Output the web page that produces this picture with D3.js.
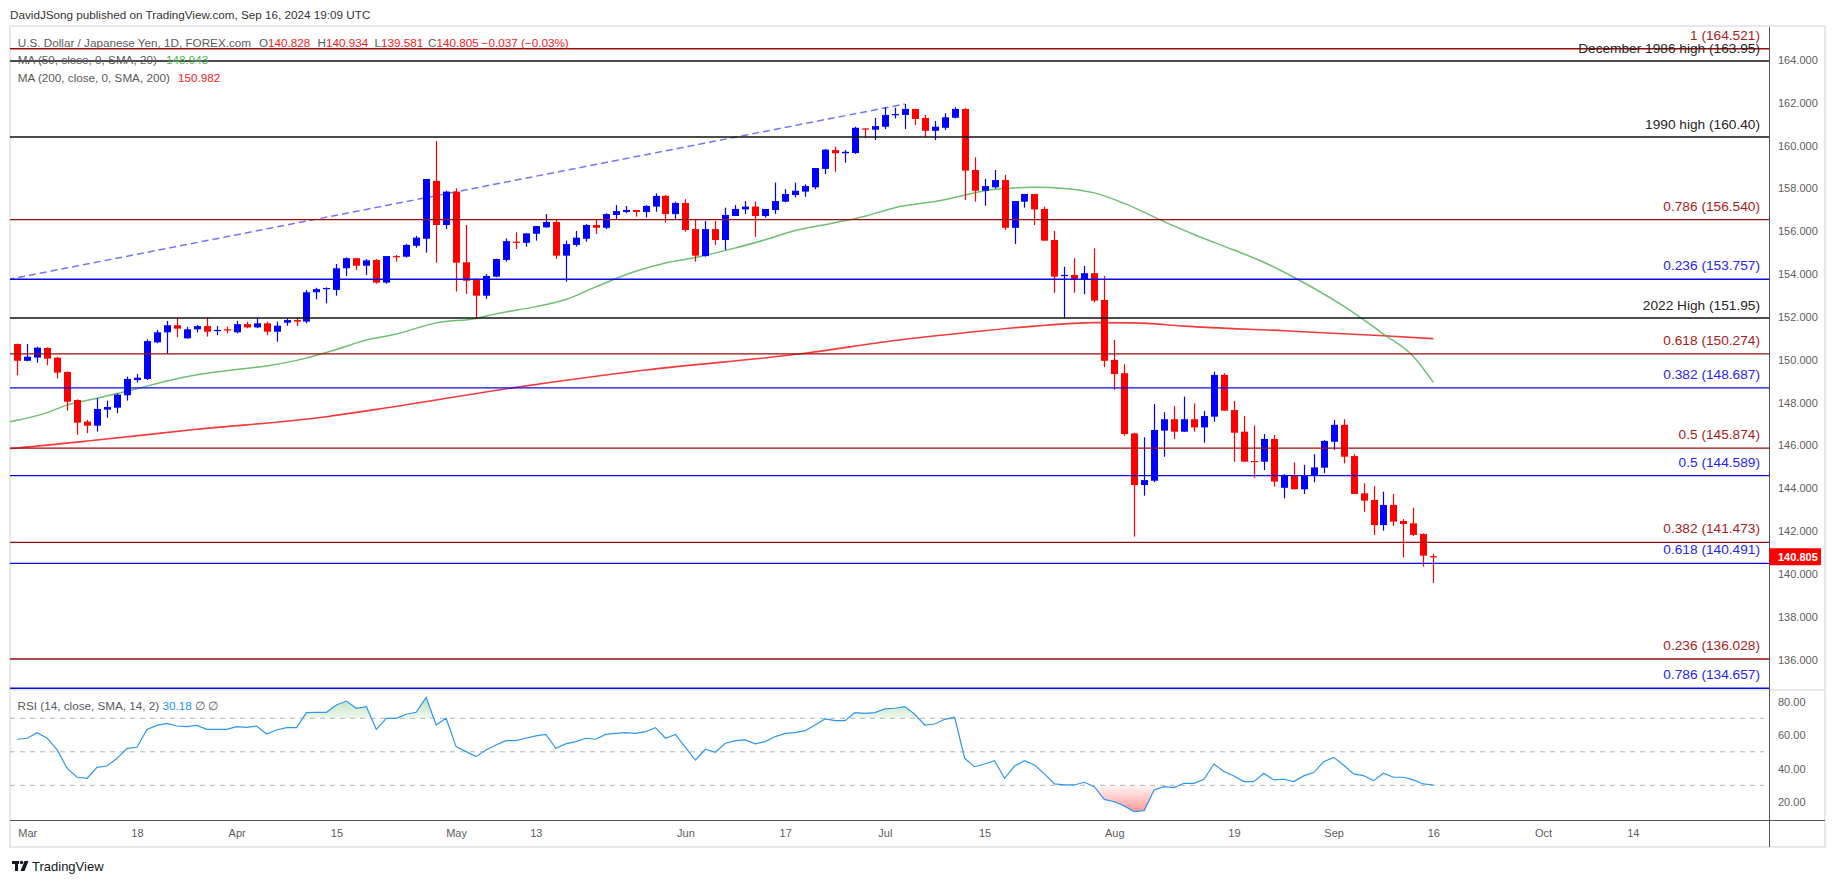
<!DOCTYPE html>
<html><head><meta charset="utf-8">
<script src="https://cdn.jsdelivr.net/npm/d3@7"></script>
<style>
body{margin:0;background:#fff;}
svg text{font-family:"Liberation Sans",Arial,sans-serif;}
</style>
</head><body>
<svg id="c" width="1835" height="883"></svg>
<script>
// ---------------- DATA ----------------
const firstBar = "2024-02-29"; // daily FX bars (Mon-Fri)
const opens = [150.73,149.95,150.10,150.55,150.10,149.43,148.12,147.11,146.92,147.67,147.76,148.34,149.05,149.10,150.81,151.28,151.61,151.00,151.42,151.57,151.34,151.42,151.28,151.66,151.51,151.70,151.31,151.73,151.85,151.78,153.15,153.32,153.26,154.27,154.74,154.39,154.66,153.60,154.84,154.81,155.32,155.65,158.35,156.29,157.85,154.55,153.72,152.99,153.88,154.66,155.51,155.46,155.88,156.18,156.43,154.86,155.36,155.65,156.29,156.16,156.76,156.90,156.99,156.90,157.15,157.65,156.80,157.32,156.10,154.84,156.10,155.59,156.71,157.02,157.15,156.71,156.99,157.38,157.69,157.85,158.05,158.91,159.79,159.64,159.65,160.80,160.74,160.88,161.45,161.43,161.71,161.29,160.69,160.83,161.30,161.71,158.86,157.89,158.05,158.39,156.16,157.38,157.74,157.04,155.59,153.94,153.96,153.76,154.04,152.79,149.99,149.37,146.56,144.15,144.35,146.69,147.22,146.64,147.22,146.84,147.34,149.29,147.65,146.64,145.27,145.24,146.30,144.02,144.58,143.95,144.58,144.96,146.17,146.96,145.50,143.76,143.45,142.28,143.22,142.47,142.36,141.86,140.828];
const highs = [150.76,150.73,150.61,150.58,150.14,149.45,148.15,147.19,148.20,148.09,148.43,149.21,149.33,150.95,151.39,151.81,151.94,151.54,151.62,151.98,151.57,151.55,151.81,151.78,151.98,151.78,151.78,151.93,151.96,153.26,153.36,153.38,154.47,154.78,154.74,154.70,154.70,154.84,154.89,155.41,155.78,158.44,160.21,157.89,158.00,156.29,153.80,154.00,154.72,155.67,155.95,155.90,156.24,156.80,156.52,155.56,156.01,156.34,156.56,156.84,157.22,157.18,156.99,157.22,157.77,157.69,157.38,157.50,156.52,156.48,156.48,157.10,157.22,157.41,157.38,157.04,158.27,157.97,158.27,158.19,158.95,159.84,159.95,159.79,160.88,160.80,161.29,161.79,161.77,161.94,161.71,161.43,161.15,161.51,161.79,161.74,159.45,158.44,158.86,158.63,157.41,157.74,157.74,157.15,156.01,154.34,154.74,154.38,155.20,153.91,150.92,149.79,146.59,146.38,147.93,147.55,147.84,148.28,147.96,147.61,149.44,149.37,148.07,147.37,146.92,146.53,146.48,144.66,145.21,145.09,145.59,146.25,147.19,147.22,145.59,144.23,144.10,143.84,143.73,142.56,143.09,141.89,140.934];
const lows = [149.27,149.93,149.86,149.74,149.13,147.62,146.49,146.57,146.64,147.29,147.50,148.09,148.93,149.05,150.77,150.30,151.05,150.98,151.27,151.08,151.15,151.23,151.23,151.47,151.47,151.16,150.84,151.59,151.57,151.70,152.82,152.63,152.99,153.91,154.19,153.95,153.55,153.55,154.58,154.77,155.23,155.00,154.53,156.10,153.18,153.07,151.93,152.84,153.85,154.58,155.17,155.28,155.56,156.17,154.70,153.64,155.28,155.51,155.87,156.10,156.56,156.84,156.68,156.64,156.91,156.40,156.57,155.98,154.58,154.81,155.36,155.12,156.71,156.80,155.74,156.63,156.80,157.35,157.58,157.61,157.96,158.67,158.78,159.20,159.61,160.34,160.26,160.77,161.27,160.77,160.96,160.39,160.26,160.73,161.27,157.46,157.38,157.19,158.00,156.06,155.40,157.10,156.29,155.56,153.13,151.93,153.13,153.06,152.68,149.65,148.59,146.45,141.74,143.65,144.28,145.47,146.30,146.64,146.64,146.13,147.11,147.62,145.24,145.24,144.49,144.85,144.07,143.53,143.95,143.73,144.28,144.70,145.79,145.16,143.73,142.90,141.82,142.02,142.24,140.77,141.77,140.34,139.581];
const closes = [149.95,150.14,150.56,150.05,149.40,148.04,147.06,146.92,147.70,147.79,148.37,149.10,149.16,150.87,151.28,151.61,151.45,151.42,151.57,151.31,151.39,151.39,151.66,151.51,151.70,151.31,151.59,151.85,151.78,153.15,153.30,153.35,154.27,154.74,154.39,154.64,153.60,154.84,154.82,155.36,155.70,158.44,156.29,157.85,154.53,153.69,152.99,153.91,154.70,155.54,155.48,155.90,156.24,156.43,154.86,155.40,155.70,156.29,156.16,156.80,156.94,156.99,156.90,157.18,157.65,156.80,157.32,156.06,154.86,156.10,155.59,156.76,157.04,157.15,156.71,157.04,157.41,157.74,157.89,158.11,158.95,159.81,159.64,159.71,160.83,160.78,160.91,161.43,161.47,161.71,161.24,160.69,160.88,161.32,161.71,158.83,157.89,158.11,158.39,156.16,157.41,157.74,157.02,155.56,153.88,153.96,153.76,154.04,152.76,149.95,149.33,146.53,144.15,144.38,146.72,147.22,146.64,147.22,146.84,147.37,149.29,147.62,146.59,145.24,145.22,146.30,144.31,144.62,143.95,144.58,144.97,146.21,146.96,145.47,143.73,143.42,142.28,143.22,142.44,142.33,141.82,140.85,140.805];
const rsiValues = [57.5,58.1,61.4,58.1,51.1,40.1,34.8,34.2,40.7,41.5,46.1,52.1,52.7,63.4,65.8,67.0,65.4,65.0,65.8,63.4,63.4,63.4,65.0,64.6,65.4,60.6,63.0,64.4,64.4,73.4,73.6,73.6,78.0,80.3,76.0,77.0,63.4,70.0,70.0,72.4,73.6,82.5,66.0,70.0,53.1,50.1,47.1,51.1,54.1,56.7,56.7,58.1,59.5,60.4,52.1,54.7,56.1,58.1,57.5,60.4,61.0,61.4,61.0,62.0,64.4,58.1,60.4,52.7,45.1,51.5,49.7,55.1,56.7,57.1,54.7,56.1,59.1,61.0,61.4,62.6,66.0,69.6,68.6,68.6,73.4,73.0,73.4,75.6,76.0,77.0,72.4,66.0,66.6,69.4,70.6,46.1,41.1,42.7,44.7,34.2,41.5,44.7,42.1,36.8,30.8,30.2,30.2,31.8,29.2,21.6,20.2,17.7,14.3,14.9,27.2,29.2,28.6,31.2,31.2,33.6,42.7,38.2,35.6,32.2,32.2,37.2,33.2,33.6,32.2,35.6,37.6,44.1,46.7,42.1,36.8,35.8,32.8,37.2,34.8,34.8,33.2,30.8,30.18];

// moving averages at sample dates
const ma50Dates = ["2024-02-28","2024-02-29","2024-03-05","2024-03-07","2024-03-12","2024-03-18","2024-03-21","2024-03-26","2024-04-01","2024-04-04","2024-04-09","2024-04-15","2024-04-18","2024-04-23","2024-04-29","2024-05-03","2024-05-07","2024-05-13","2024-05-16","2024-05-21","2024-05-27","2024-05-30","2024-06-04","2024-06-10","2024-06-13","2024-06-18","2024-06-24","2024-06-27","2024-07-02","2024-07-09","2024-07-11","2024-07-16","2024-07-22","2024-07-25","2024-07-30","2024-08-02","2024-08-08","2024-08-13","2024-08-19","2024-08-22","2024-08-27","2024-09-03","2024-09-09","2024-09-12","2024-09-16"];
const ma50Values = [147.08,147.17,147.53,147.89,148.20,148.64,149.01,149.30,149.54,149.71,149.97,150.48,150.92,151.20,151.72,151.93,152.14,152.48,152.81,153.40,154.13,154.52,154.77,155.22,155.60,156.03,156.40,156.70,157.10,157.47,157.68,157.96,158.05,158.00,157.79,157.30,156.45,155.85,155.12,154.55,153.85,152.50,151.20,150.15,148.943];
const ma200Dates = ["2024-02-28","2024-02-29","2024-03-12","2024-03-26","2024-04-12","2024-04-19","2024-05-09","2024-05-28","2024-06-19","2024-07-02","2024-07-11","2024-07-22","2024-07-30","2024-08-05","2024-08-12","2024-08-26","2024-09-09","2024-09-16"];
const ma200Values = [145.84,145.88,146.25,146.75,147.34,147.68,148.71,149.52,150.30,150.90,151.26,151.57,151.73,151.72,151.57,151.35,151.12,150.982];

// drawn trend line (two anchor points)
const trendDates = ["2024-02-28","2024-07-03"];
const trendValues = [153.74,161.94];

// horizontal levels
const levelValues = [164.521,163.95,160.40,156.540,153.757,151.95,150.274,148.687,145.874,144.589,141.473,140.491,136.028,134.657];
const levelLabels = ["1 (164.521)","December 1986 high (163.95)","1990 high (160.40)","0.786 (156.540)","0.236 (153.757)","2022 High (151.95)","0.618 (150.274)","0.382 (148.687)","0.5 (145.874)","0.5 (144.589)","0.382 (141.473)","0.618 (140.491)","0.236 (136.028)","0.786 (134.657)"];
const levelGroups = ["fibRed","hist","hist","fibRed","fibBlue","hist","fibRed","fibBlue","fibRed","fibBlue","fibRed","fibBlue","fibRed","fibBlue"];

// axes
const tickDates = ["2024-03-01","2024-03-18","2024-04-01","2024-04-15","2024-05-01","2024-05-13","2024-06-03","2024-06-17","2024-07-01","2024-07-15","2024-08-01","2024-08-19","2024-09-02","2024-09-16","2024-10-01","2024-10-14"];
const tickLabels = ["Mar","18","Apr","15","May","13","Jun","17","Jul","15","Aug","19","Sep","16","Oct","14"];
const priceTicks = [136,138,140,142,144,146,148,150,152,154,156,158,160,162,164];
const rsiTicks = [20,40,60,80];
const rsiLevels = [70,50,30];

// ---------------- HELPERS ----------------
const t0 = new Date(firstBar + "T00:00:00Z");
function barIndex(s){
  const d = new Date(s + "T00:00:00Z");
  const a = d < t0 ? d : t0, b = d < t0 ? t0 : d;
  const n = d3.utcDay.range(a, b).filter(z => z.getUTCDay() % 6 !== 0).length;
  return d < t0 ? -n : n;
}
const bars = closes.map((c,i)=>({i, o:opens[i], h:highs[i], l:lows[i], c}));

// ---------------- LAYOUT ----------------
const svg = d3.select("#c");
const L = 10, R = 1769, PT = 27, PB = 690, RT = 690, RB = 820, FR = 1825, FB = 847;
const x = d3.scaleLinear().domain([-0.732, 175.66]).range([L, R]);
const y = d3.scaleLinear().domain([134.578, 165.536]).range([PB, PT]);
const yr = d3.scaleLinear().domain([9.28, 86.9]).range([RB, RT]);

const defs = svg.append("defs");
defs.append("clipPath").attr("id","cp").append("rect").attr("x",L).attr("y",PT).attr("width",R-L).attr("height",PB-PT);
defs.append("clipPath").attr("id","cr").append("rect").attr("x",L).attr("y",RT).attr("width",R-L).attr("height",RB-RT);
defs.append("clipPath").attr("id","cAbove").append("rect").attr("x",L).attr("y",RT).attr("width",R-L).attr("height",yr(70)-RT);
defs.append("clipPath").attr("id","cBelow").append("rect").attr("x",L).attr("y",yr(30)).attr("width",R-L).attr("height",RB-yr(30));
const gg = defs.append("linearGradient").attr("id","gGreen").attr("gradientUnits","userSpaceOnUse").attr("x1",0).attr("x2",0).attr("y1",yr(82)).attr("y2",yr(70));
gg.append("stop").attr("offset","0").attr("stop-color","rgb(60,170,60)").attr("stop-opacity",0.35);
gg.append("stop").attr("offset","1").attr("stop-color","rgb(60,170,60)").attr("stop-opacity",0.08);
const gr = defs.append("linearGradient").attr("id","gRed").attr("gradientUnits","userSpaceOnUse").attr("x1",0).attr("x2",0).attr("y1",yr(30)).attr("y2",yr(14));
gr.append("stop").attr("offset","0").attr("stop-color","rgb(255,60,60)").attr("stop-opacity",0.05);
gr.append("stop").attr("offset","1").attr("stop-color","rgb(255,40,40)").attr("stop-opacity",0.5);

// header
svg.append("text").attr("x",10).attr("y",19).attr("font-size",11.7).attr("fill","#333")
  .text("DavidJSong published on TradingView.com, Sep 16, 2024 19:09 UTC");

// frame
svg.append("rect").attr("x",L).attr("y",26).attr("width",FR-L).attr("height",FB-26)
  .attr("fill","#fff").attr("stroke","#e6e8ee").attr("stroke-width",2);

// ---------------- PRICE PANE ----------------
const pane = svg.append("g").attr("clip-path","url(#cp)");
const lineColor = {fibRed:"#9c0a0a", fibBlue:"#0a0ae6", hist:"#111"};
const textColor = {fibRed:"#a81c1c", fibBlue:"#2626f0", hist:"#262626"};

// MA lines
const maLine = d3.line().x(d=>x(d.i)).y(d=>y(d.v)).curve(d3.curveMonotoneX);
pane.append("path").datum(ma200Dates.map((s,k)=>({i:barIndex(s), v:ma200Values[k]})))
  .attr("d",maLine).attr("fill","none").attr("stroke","#f01818").attr("stroke-opacity",0.85).attr("stroke-width",1.6);
pane.append("path").datum(ma50Dates.map((s,k)=>({i:barIndex(s), v:ma50Values[k]})))
  .attr("d",maLine).attr("fill","none").attr("stroke","#4caf50").attr("stroke-opacity",0.8).attr("stroke-width",1.5);

// trend line
pane.append("line")
  .attr("x1",x(barIndex(trendDates[0]))).attr("y1",y(trendValues[0]))
  .attr("x2",x(barIndex(trendDates[1]))).attr("y2",y(trendValues[1]))
  .attr("stroke","#3c3cf0").attr("stroke-opacity",0.7).attr("stroke-width",1.5).attr("stroke-dasharray","7,4");

// candles
const cg = pane.append("g");
bars.forEach(b=>{
  const xc = Math.round(x(b.i));
  const up = b.c >= b.o;
  const col = up ? "#0000ff" : "#ff0000";
  cg.append("line").attr("x1",xc+0.5).attr("x2",xc+0.5).attr("y1",y(b.h)).attr("y2",y(b.l))
    .attr("stroke",col).attr("stroke-width",1.2);
  const yt = y(Math.max(b.o,b.c)), yb = y(Math.min(b.o,b.c));
  cg.append("rect").attr("x",xc-3).attr("width",7).attr("y",yt).attr("height",Math.max(1.2, yb-yt)).attr("fill",col);
});

// levels
levelValues.forEach((v,k)=>{
  const g = levelGroups[k];
  pane.append("line").attr("x1",L).attr("x2",R).attr("y1",y(v)).attr("y2",y(v))
    .attr("stroke",lineColor[g]).attr("stroke-width",1.4);
});
levelValues.forEach((v,k)=>{
  const g = levelGroups[k];
  svg.append("text").attr("x",1760).attr("y",y(v) - (g==="hist"?7.5:9))
    .attr("text-anchor","end").attr("font-size",13.7).attr("fill",textColor[g]).text(levelLabels[k]);
});

// legend
const leg = svg.append("g").attr("font-size",11.7);
leg.append("text").attr("x",17.8).attr("y",46.7).attr("fill","#5a5a5a").text("U.S. Dollar / Japanese Yen, 1D, FOREX.com");
const ohlc = [["O","140.828",259],["H","140.934",317.5],["L","139.581",374.5],["C","140.805",428]];
ohlc.forEach(([k,v,px])=>{
  const t = leg.append("text").attr("x",px).attr("y",46.7);
  t.append("tspan").attr("fill","#5a5a5a").text(k);
  t.append("tspan").attr("fill","#f21c1c").text(v);
});
leg.append("text").attr("x",481.6).attr("y",46.7).attr("fill","#f21c1c").text("\u22120.037 (\u22120.03%)");
leg.append("text").attr("x",17.8).attr("y",63.5).attr("fill","#5a5a5a").text("MA (50, close, 0, SMA, 20)");
leg.append("text").attr("x",166).attr("y",63.5).attr("fill","#4caf50").text("148.943");
leg.append("text").attr("x",17.8).attr("y",81.5).attr("fill","#5a5a5a").text("MA (200, close, 0, SMA, 200)");
leg.append("text").attr("x",178).attr("y",81.5).attr("fill","#f21c1c").text("150.982");

// ---------------- RSI PANE ----------------
const rp = svg.append("g").attr("clip-path","url(#cr)");
rsiLevels.forEach(v=>{
  rp.append("line").attr("x1",L).attr("x2",1764).attr("y1",yr(v)).attr("y2",yr(v))
    .attr("stroke","#b4b4b4").attr("stroke-width",1).attr("stroke-dasharray","5,5");
});
rp.append("path").datum(rsiValues).attr("clip-path","url(#cAbove)")
  .attr("d",d3.area().x((d,i)=>x(i)).y0(yr(70)).y1(d=>yr(d))).attr("fill","url(#gGreen)");
rp.append("path").datum(rsiValues).attr("clip-path","url(#cBelow)")
  .attr("d",d3.area().x((d,i)=>x(i)).y0(yr(30)).y1(d=>yr(d))).attr("fill","url(#gRed)");
rp.append("path").datum(rsiValues).attr("d",d3.line().x((d,i)=>x(i)).y(d=>yr(d)))
  .attr("fill","none").attr("stroke","#2f96f0").attr("stroke-width",1.2);
const rl = svg.append("text").attr("x",17.6).attr("y",709.7).attr("font-size",11.7);
rl.append("tspan").attr("fill","#5a5a5a").text("RSI (14, close, SMA, 14, 2) ");
rl.append("tspan").attr("fill","#2196f3").text("30.18");
rl.append("tspan").attr("fill","#5a5a5a").text("  \u2205  \u2205");

// ---------------- AXES & FRAME LINES ----------------
svg.append("line").attr("x1",L).attr("x2",FR).attr("y1",PB).attr("y2",PB).attr("stroke","#e0e3eb").attr("stroke-width",1.5);
svg.append("line").attr("x1",L).attr("x2",FR).attr("y1",RB+0.5).attr("y2",RB+0.5).attr("stroke","#555").attr("stroke-width",1);
svg.append("line").attr("x1",R+0.5).attr("x2",R+0.5).attr("y1",27).attr("y2",FB).attr("stroke","#555").attr("stroke-width",1);

const yAxis = svg.append("g").attr("transform",`translate(${R},0)`)
  .call(d3.axisRight(y).tickValues(priceTicks).tickFormat(d=>d.toFixed(3)).tickSize(0).tickPadding(9));
const rAxis = svg.append("g").attr("transform",`translate(${R},0)`)
  .call(d3.axisRight(yr).tickValues(rsiTicks).tickFormat(d=>d.toFixed(2)).tickSize(0).tickPadding(9));
const xAxis = svg.append("g").attr("transform",`translate(0,${RB})`)
  .call(d3.axisBottom(x).tickValues(tickDates.map(barIndex)).tickFormat((d,k)=>tickLabels[k]).tickSize(0).tickPadding(9));
[yAxis,rAxis,xAxis].forEach(a=>{
  a.select(".domain").remove();
  a.selectAll("text").attr("font-size",11).attr("fill","#5d5d5d").attr("font-family","'Liberation Sans',Arial,sans-serif");
});

// last price tag
const lastC = closes[closes.length-1];
svg.append("rect").attr("x",R+0.5).attr("y",y(lastC)-8.5).attr("width",51.5).attr("height",17).attr("fill","#ff0000").attr("rx",1);
svg.append("text").attr("x",R+9).attr("y",y(lastC)+4).attr("font-size",11).attr("font-weight","bold").attr("fill","#fff").text(lastC.toFixed(3));

// logo
const lg = svg.append("g").attr("fill","#131722");
lg.append("rect").attr("x",12).attr("y",861).attr("width",7).attr("height",3);
lg.append("rect").attr("x",15).attr("y",861).attr("width",3).attr("height",10);
lg.append("circle").attr("cx",21.5).attr("cy",862.5).attr("r",1.7);
lg.append("path").attr("d","M24.5,861 L28.5,861 L24.5,871 L20.5,871 Z");
svg.append("text").attr("x",32).attr("y",871).attr("font-size",13).attr("fill","#131722").text("TradingView");
</script>
</body></html>
